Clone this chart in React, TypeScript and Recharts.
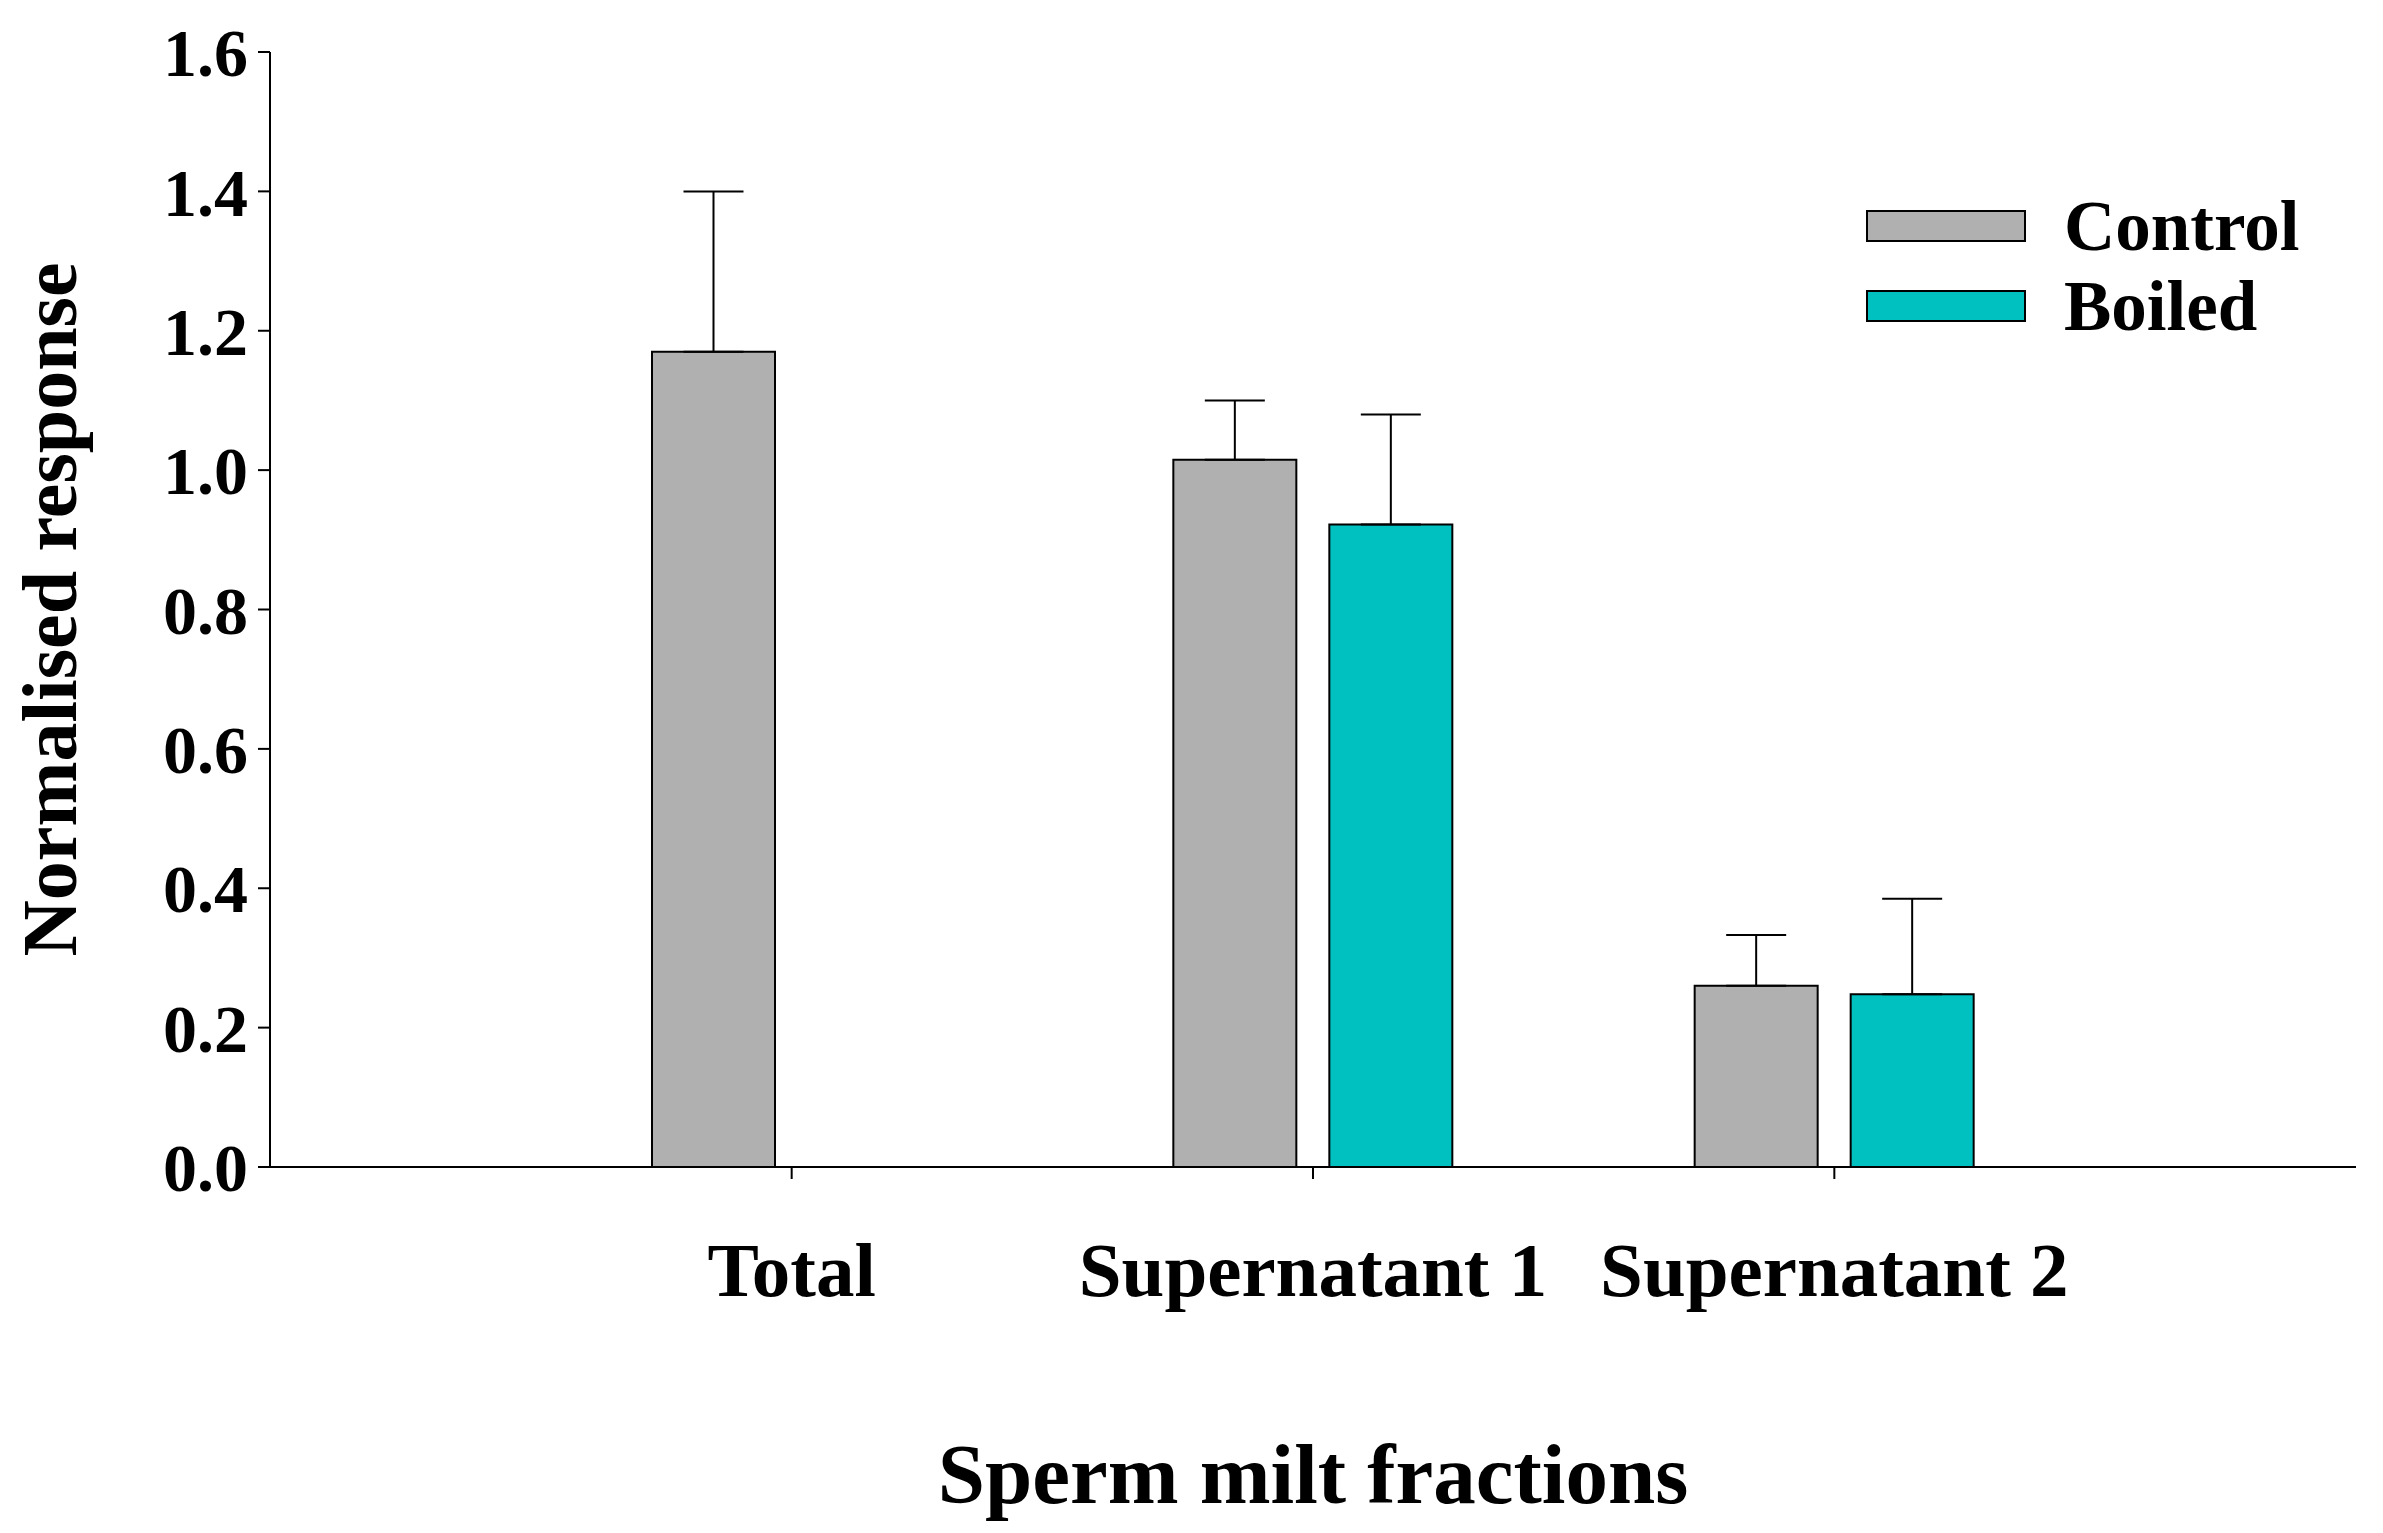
import React from "react";
import { BarChart, Bar, XAxis, YAxis, ErrorBar } from "recharts";

const categories = ["Total", "Supernatant 1", "Supernatant 2"];
const controlValues = [1.17, 1.015, 0.26];
const controlErrors = [0.23, 0.085, 0.073];
const boiledValues: (number | null)[] = [null, 0.922, 0.248];
const boiledErrors = [0, 0.158, 0.137];
const yTicks = [0, 0.2, 0.4, 0.6, 0.8, 1.0, 1.2, 1.4, 1.6];
const legendItems = ["Control", "Boiled"];

const data = categories.map((c, i) => ({
  name: c,
  control: controlValues[i],
  controlErr: [0, controlErrors[i]],
  boiled: boiledValues[i],
  boiledErr: [0, boiledErrors[i]],
}));

const font = "'Liberation Serif', 'Times New Roman', serif";
const GRAY = "#b0b0b0";
const TEAL = "#00c0c0";
const colors = [GRAY, TEAL];

export default function App() {
  return (
    <div style={{ position: "relative", width: 2367, height: 1517 }}>
      <BarChart
        width={2367}
        height={1517}
        data={data}
        margin={{ top: 44, right: 19, left: 0, bottom: 0 }}
        barCategoryGap={121}
        barGap={33}
      >
        <XAxis
          dataKey="name"
          padding={{ left: 261, right: 261 }}
          height={358}
          tickSize={12}
          tickMargin={62}
          stroke="#000"
          strokeWidth={2}
          tick={{ fill: "#000", fontFamily: font, fontWeight: "bold", fontSize: 77 }}
          label={{ value: "Sperm milt fractions", position: "insideBottom", offset: 22, fill: "#000", fontFamily: font, fontWeight: "bold", fontSize: 85 }}
        />
        <YAxis
          width={262}
          domain={[0, 1.6]}
          ticks={yTicks}
          tickFormatter={(v: number) => v.toFixed(1)}
          tickSize={12}
          tickMargin={10}
          stroke="#000"
          strokeWidth={2}
          tick={{ fill: "#000", fontFamily: font, fontWeight: "bold", fontSize: 68 }}
          label={{ value: "Normalised response", angle: -90, position: "insideLeft", offset: 40, style: { textAnchor: "middle" }, fill: "#000", fontFamily: font, fontWeight: "bold", fontSize: 78 }}
        />
        <Bar dataKey="control" fill={GRAY} stroke="#000" strokeWidth={2} isAnimationActive={false}>
          <ErrorBar dataKey="controlErr" width={30} stroke="#000" strokeWidth={2} direction="y" />
        </Bar>
        <Bar dataKey="boiled" fill={TEAL} stroke="#000" strokeWidth={2} isAnimationActive={false}>
          <ErrorBar dataKey="boiledErr" width={30} stroke="#000" strokeWidth={2} direction="y" />
        </Bar>
      </BarChart>
      <div style={{ position: "absolute", left: 1858, top: 178, fontFamily: font, fontWeight: "bold", fontSize: 71, lineHeight: 1 }}>
        {legendItems.map((n, i) => (
          <div key={n} style={{ display: "flex", alignItems: "center", height: 80 }}>
            <div style={{ width: 156, height: 28, background: colors[i], border: "2px solid #000", marginRight: 38 }} />
            <span>{n}</span>
          </div>
        ))}
      </div>
    </div>
  );
}
